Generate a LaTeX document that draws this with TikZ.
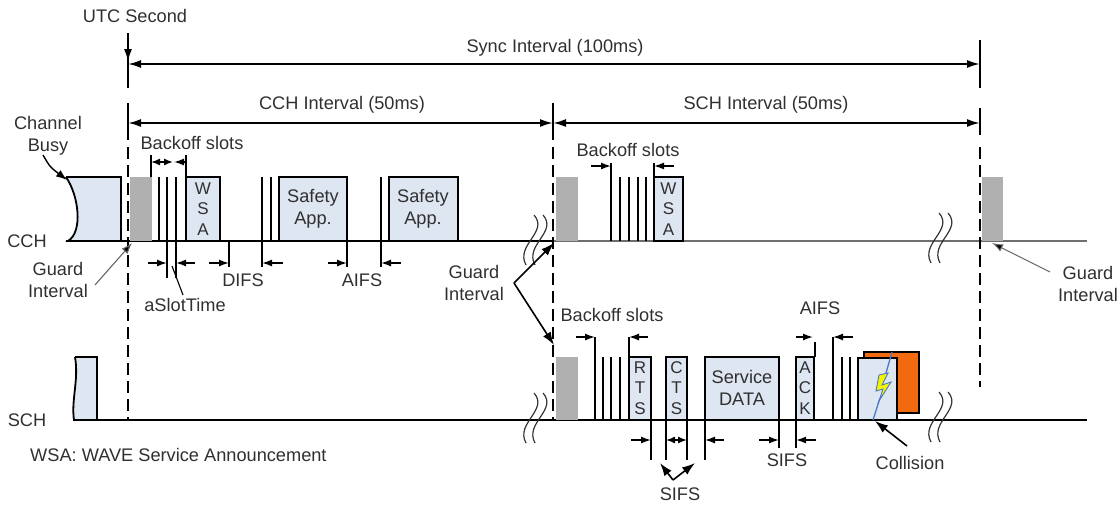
\documentclass[tikz,border=0pt]{standalone}
\usepackage{fontspec}
\setmainfont{Liberation Sans}
\usetikzlibrary{arrows.meta}
\definecolor{busy}{HTML}{DEE6F2}
\definecolor{guard}{HTML}{B0B0B0}
\definecolor{txt}{HTML}{303030}
\definecolor{coll}{HTML}{F26A10}
\definecolor{boltblue}{HTML}{4A78C8}
\definecolor{boltyel}{HTML}{F4F400}
\definecolor{cchgray}{HTML}{6E6E6E}
\newcommand\brkmark[2]{%
  \draw[line width=1.2pt,black!80] (#1+4,#2-25) .. controls (#1+19,#2-8) and (#1-15,#2+5) .. (#1-4,#2+25);
  \draw[line width=1.2pt,black!80] (#1+13,#2-25) .. controls (#1+28,#2-8) and (#1-6,#2+5) .. (#1+5,#2+25);}
\begin{document}
\begin{tikzpicture}[x=1pt,y=-1pt,
  lbl/.style={font=\fontsize{18.2}{21.5}\selectfont, text=txt, inner sep=0pt, align=center},
  vlet/.style={font=\fontsize{17}{20.5}\selectfont, text=txt, inner sep=0pt, align=center},
  busybox/.style={draw=black, line width=1.8pt, fill=busy},
  ln/.style={line width=1.8pt},
  bigln/.style={line width=2pt},
  dashln/.style={line width=2pt, dash pattern=on 12pt off 6pt},
  bigarr/.style={line width=2pt, {Latex[length=13pt,width=8pt]}-{Latex[length=13pt,width=8pt]}},
  dimarr/.style={line width=1.4pt, -{Latex[length=10pt,width=7pt]}},
  dimboth/.style={line width=1.4pt, {Latex[length=9pt,width=7pt]}-{Latex[length=9pt,width=7pt]}},
  leader/.style={line width=1.1pt, draw=black!60, -{Latex[length=11pt,width=8pt,fill=black]}},
  midarr/.style={line width=1.6pt, -{Latex[length=13pt,width=9pt]}}
]
\useasboundingbox (0,0) rectangle (1119,507);

% ---------- time lines ----------
\draw[ln] (66,241) -- (553,241);
\draw[ln, draw=cchgray] (553,241) -- (1087,241);
\draw[ln] (74,420) -- (1087,420);

% ---------- interval markers ----------
\coordinate (utcTop) at (128,33);
\coordinate (utcTip) at (128,62);
\draw[bigln] (128,33) -- (128,88);
\draw[bigln, -{Latex[length=13pt,width=8pt]}] (utcTop) -- (utcTip);
\draw[bigln] (980,40) -- (980,88);
\draw[bigln] (128,103) -- (128,140);
\draw[bigln] (553,103) -- (553,140);
\draw[bigln] (980,108) -- (980,135);
\draw[dashln] (128,147) -- (128,420);
\draw[dashln] (553,147) -- (553,420);
\draw[dashln] (980,147) -- (980,387);

\coordinate (syncL) at (128,64);  \coordinate (syncR) at (980,64);
\coordinate (cchL) at (128,123);  \coordinate (cchR) at (553,123);
\coordinate (schL) at (553,123);  \coordinate (schR) at (980,123);
\draw[bigarr] (syncL) -- (syncR);
\draw[bigarr] (cchL) -- (cchR);
\draw[bigarr] (schL) -- (schR);

\node[lbl] (utc) at (135,16) {UTC Second};
\node[lbl] (sync) at (555,48) {Sync Interval (100ms)};
\node[lbl] (cchint) at (342,105) {CCH Interval (50ms)};
\node[lbl] (schint) at (766,105) {SCH Interval (50ms)};

% ---------- channel labels ----------
\node[lbl] (cchlab) at (27,241) {CCH};
\node[lbl] (schlab) at (27,420) {SCH};
\node[lbl, anchor=west] (wsanote) at (30,455) {WSA: WAVE Service Announcement};

% ---------- CCH, CCH interval ----------
\filldraw[busybox] (66,177) -- (121,177) -- (121,241) -- (68,241)
   .. controls (83,232) and (79,196) .. (66,177);
\node[lbl] (busy) at (48,136) {Channel\\Busy};
\coordinate (busyTip) at (67,180);
\draw[line width=1.4pt, -{Latex[length=11pt,width=8pt]}] (43,155) .. controls (50,167) .. (busyTip);

\fill[guard] (130,177) rectangle (152,241);
\node[lbl] (guardL) at (58,280) {Guard\\Interval};
\coordinate (guardLtip) at (132,243);
\draw[leader] (95,285) -- (guardLtip);

% backoff
\node[lbl] (bo1) at (192,143) {Backoff slots};
\draw[ln] (151,155) -- (151,177);
\draw[ln] (186,155) -- (186,177);
\draw[dimboth] (151,162) -- (173,162);
\draw[dimarr] (186,162) -- (174,162);
\draw[ln] (159,177) -- (159,241);
\draw[ln] (167,177) -- (167,278);
\draw[ln] (176,177) -- (176,278);
\draw[dimarr] (148,263) -- (167,263);
\draw[dimarr] (195,263) -- (176,263);
\node[lbl] (aslot) at (185,305) {aSlotTime};
\draw[line width=1.1pt] (183,295) -- (172,266);

\filldraw[busybox] (186,177) rectangle (220,241);
\node[vlet] (wsa1) at (203,209) {W\\S\\A};

% DIFS
\draw[ln] (229,241) -- (229,267);
\draw[ln] (262,177) -- (262,267);
\draw[ln] (271,177) -- (271,241);
\draw[dimarr] (209,263) -- (229,263);
\draw[dimarr] (283,263) -- (262,263);
\node[lbl] (difs) at (243,280) {DIFS};

\filldraw[busybox] (279,177) rectangle (347,241);
\node[lbl] (sa1) at (313,209) {Safety\\App.};

% AIFS
\draw[ln] (347,241) -- (347,267);
\draw[ln] (381,177) -- (381,267);
\draw[dimarr] (328,263) -- (347,263);
\draw[dimarr] (401,263) -- (381,263);
\node[lbl] (aifs1) at (362,280) {AIFS};

\filldraw[busybox] (389,177) rectangle (458,241);
\node[lbl] (sa2) at (423,209) {Safety\\App.};

\brkmark{530}{240}

% ---------- CCH, SCH interval ----------
\fill[guard] (556,177) rectangle (578,241);
\node[lbl] (bo2) at (628,150) {Backoff slots};
\draw[ln] (611,163) -- (611,241);
\draw[ln] (620,177) -- (620,241);
\draw[ln] (629,177) -- (629,241);
\draw[ln] (638,177) -- (638,241);
\draw[ln] (646,177) -- (646,241);
\draw[ln] (654,163) -- (654,177);
\draw[dimarr] (591,166) -- (611,166);
\draw[dimarr] (674,166) -- (654,166);
\filldraw[busybox] (654,177) rectangle (683,241);
\node[vlet] (wsa2) at (668.5,209) {W\\S\\A};

\brkmark{935}{238}
\fill[guard] (982,177) rectangle (1003,241);
\node[lbl] (guardR) at (1088,284) {Guard\\Interval};
\coordinate (guardRtip) at (992,243);
\draw[leader] (1050,272) -- (guardRtip);

% ---------- middle guard ----------
\node[lbl] (guardM) at (474,283) {Guard\\Interval};
\coordinate (gv) at (514,283);
\coordinate (gtipA) at (554,243);
\coordinate (gtipB) at (554,345);
\draw[midarr] (gv) -- (gtipA);
\draw[midarr] (gv) -- (gtipB);

% ---------- SCH ----------
\filldraw[busybox] (75,357) -- (97,357) -- (97,420) -- (74,420)
   .. controls (71,400) and (79,380) .. (75,357);

\brkmark{530}{418}
\fill[guard] (556,357) rectangle (578,420);

\node[lbl] (bo3) at (612,315) {Backoff slots};
\draw[ln] (595,337) -- (595,420);
\draw[ln] (603,357) -- (603,420);
\draw[ln] (611,357) -- (611,420);
\draw[ln] (620,357) -- (620,420);
\draw[ln] (629,337) -- (629,357);
\draw[dimarr] (576,337) -- (595,337);
\draw[dimarr] (648,337) -- (629,337);

\filldraw[busybox] (629,357) rectangle (651,420);
\node[vlet] (rts) at (640,388) {R\\T\\S};
\filldraw[busybox] (666,357) rectangle (687,420);
\node[vlet] (cts) at (676.5,388) {C\\T\\S};
\filldraw[busybox] (705,357) rectangle (779,420);
\node[lbl] (data) at (742,388) {Service\\DATA};
\filldraw[busybox] (796,357) rectangle (814,420);
\node[vlet] (ack) at (805,388) {A\\C\\K};

% SIFS ticks and arrows
\draw[ln] (651,420) -- (651,460);
\draw[ln] (666,420) -- (666,460);
\draw[ln] (687,420) -- (687,460);
\draw[ln] (705,420) -- (705,460);
\draw[ln] (779,420) -- (779,448);
\draw[ln] (796,420) -- (796,448);
\draw[dimarr] (631,440) -- (651,440);
\draw[dimboth] (666,440) -- (687,440);
\draw[dimarr] (724,440) -- (705,440);
\draw[dimarr] (759,440) -- (779,440);
\draw[dimarr] (816,440) -- (796,440);
\node[lbl] (sifs1) at (787,460) {SIFS};
\node[lbl] (sifs2) at (680,494) {SIFS};
\coordinate (sv) at (673,480);
\coordinate (stipA) at (660,463);
\coordinate (stipB) at (695,463);
\draw[midarr] (sv) -- (stipA);
\draw[midarr] (sv) -- (stipB);

% AIFS on SCH
\node[lbl] (aifs2) at (820,308) {AIFS};
\draw[ln] (815,342) -- (815,357);
\draw[ln] (833,337) -- (833,420);
\draw[ln] (842,357) -- (842,420);
\draw[ln] (850,357) -- (850,420);
\draw[dimarr] (796,337) -- (813,337);
\draw[dimarr] (853,337) -- (833,337);

% collision
\filldraw[draw=black, line width=1.5pt, fill=coll] (864,352) rectangle (919,413);
\filldraw[busybox] (858,358) rectangle (897,420);
\draw[line width=1.3pt, boltblue] (892,352) -- (886,373);
\filldraw[fill=boltyel, draw=boltblue, line width=0.9pt]
  (879,375) -- (888,373) -- (882,385) -- (891,382) -- (879,401) -- (883,389) -- (876,391) -- cycle;
\draw[line width=1.3pt, boltblue] (880,398) -- (873,420);
\node[lbl] (coll) at (910,463) {Collision};
\coordinate (collTip) at (875,421);
\draw[midarr] (907,446) -- (collTip);

\brkmark{935}{417}
\end{tikzpicture}
\end{document}
